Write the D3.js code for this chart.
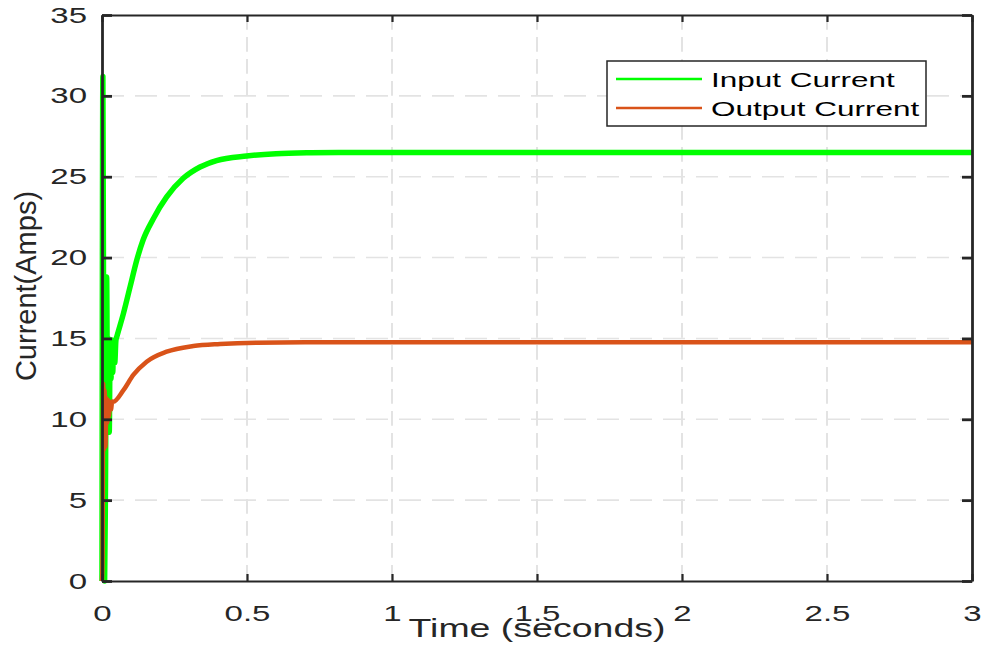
<!DOCTYPE html>
<html>
<head>
<meta charset="utf-8">
<script src="https://cdn.jsdelivr.net/npm/d3@7"></script>
<style>
    body { margin: 0; background: #fff; }
    text { font-family: "Liberation Sans", Arial, sans-serif; fill: #262626; }
</style>
</head>
<body>
<div id="chart"></div>
<script>
// data
var timeIn = [0, 0.003, 0.006, 0.009, 0.012, 0.016, 0.019, 0.022, 0.025, 0.028, 0.031, 0.034, 0.037, 0.040, 0.044, 0.048, 0.051,
    0.074, 0.097, 0.12, 0.142, 0.177, 0.223, 0.28, 0.338, 0.395, 0.499, 0.6, 0.72, 0.85, 1.0, 1.5, 2.0, 2.5, 3.0];
var inputCurrent = [0, 31.2, 12, 0, 6, 18.8, 11, 15, 9.2, 14.6, 12.5, 14.9, 12.9, 14.8, 13.5, 14.9, 15.1,
    16.55, 18.2, 19.85, 21.1, 22.4, 23.75, 24.9, 25.6, 26.0, 26.28, 26.42, 26.48, 26.5, 26.5, 26.5, 26.5, 26.5, 26.5];

var timeOut = [0, 0.002, 0.004, 0.006, 0.009, 0.012, 0.015, 0.018, 0.021, 0.024, 0.027, 0.031, 0.035, 0.039,
    0.074, 0.108, 0.154, 0.223, 0.315, 0.407, 0.533, 0.7, 1.0, 1.5, 2.0, 2.5, 3.0];
var outputCurrent = [0, 1.5, 12.2, 8.1, 11.8, 8.3, 11.3, 9.8, 11.2, 10.2, 11.0, 10.6, 11.1, 11.09,
    11.8, 12.74, 13.56, 14.18, 14.53, 14.66, 14.74, 14.76, 14.76, 14.76, 14.76, 14.76, 14.76];

var xTicks = [0, 0.5, 1, 1.5, 2, 2.5, 3];
var yTicks = [0, 5, 10, 15, 20, 25, 30, 35];
var seriesNames = ["Input Current", "Output Current"];
var seriesColors = ["#00ff00", "#d95319"];

var svgWidth = 985;
var svgHeight = 647;
var margin = { top: 15, right: 13, bottom: 66, left: 102 };
var chart_width = svgWidth - margin.left - margin.right;
var chart_height = svgHeight - margin.top - margin.bottom;

// the original picture is stretched sideways, so horizontal text is too
var stretch = 1.5;

var svg = d3.select("#chart")
    .append("svg")
    .attr("width", svgWidth)
    .attr("height", svgHeight);

var chartGroup = svg.append("g")
    .attr("transform", `translate(${margin.left}, ${margin.top})`);

var xScale = d3.scaleLinear().domain([0, 3]).range([0, chart_width]);
var yScale = d3.scaleLinear().domain([0, 35]).range([chart_height, 0]);

// grid
chartGroup.append("g")
    .selectAll("line")
    .data(xTicks.slice(1, -1))
    .enter()
    .append("line")
    .attr("x1", d => xScale(d)).attr("x2", d => xScale(d))
    .attr("y1", 0).attr("y2", chart_height)
    .attr("stroke", "#e3e3e3")
    .attr("stroke-width", 2)
    .attr("stroke-dasharray", "14.7 7.3");

chartGroup.append("g")
    .selectAll("line")
    .data(yTicks.slice(1, -1))
    .enter()
    .append("line")
    .attr("x1", 0).attr("x2", chart_width)
    .attr("y1", d => yScale(d)).attr("y2", d => yScale(d))
    .attr("stroke", "#e3e3e3")
    .attr("stroke-width", 1.6)
    .attr("stroke-dasharray", "22 11");

// lines
var lineIn = d3.line().x((d, i) => xScale(timeIn[i])).y(d => yScale(d)).curve(d3.curveMonotoneX);
var lineOut = d3.line().x((d, i) => xScale(timeOut[i])).y(d => yScale(d)).curve(d3.curveMonotoneX);

chartGroup.append("path")
    .datum(inputCurrent)
    .attr("d", lineIn)
    .attr("fill", "none")
    .attr("stroke", seriesColors[0])
    .attr("stroke-width", 5.5)
    .attr("stroke-linejoin", "round");

chartGroup.append("path")
    .datum(outputCurrent)
    .attr("d", lineOut)
    .attr("fill", "none")
    .attr("stroke", seriesColors[1])
    .attr("stroke-width", 4.5)
    .attr("stroke-linejoin", "round");

// axes (ticks point inward on all four sides)
function styleAxis(g, width) {
    g.select(".domain").attr("stroke", "#262626").attr("stroke-width", width);
    g.selectAll(".tick line").attr("stroke", "#262626").attr("stroke-width", width);
}

var bottomAxis = d3.axisBottom(xScale).tickValues(xTicks).tickSizeInner(-7).tickSizeOuter(0).tickPadding(0)
    .tickFormat(d3.format("~g"));
var gx = chartGroup.append("g")
    .attr("transform", `translate(0, ${chart_height})`)
    .call(bottomAxis);
styleAxis(gx, 2.2);
gx.selectAll(".tick text")
    .attr("y", 24)
    .attr("dy", "0.71em")
    .attr("transform", `scale(${stretch},1)`)
    .style("font-size", "22px")
    .style("fill", "#262626");

var topAxis = d3.axisTop(xScale).tickValues(xTicks).tickSizeInner(-7).tickSizeOuter(0).tickFormat("");
styleAxis(chartGroup.append("g").call(topAxis), 2.2);

var leftAxis = d3.axisLeft(yScale).tickValues(yTicks).tickSizeInner(-10).tickSizeOuter(0).tickPadding(0);
var gy = chartGroup.append("g").call(leftAxis);
styleAxis(gy, 2.8);
gy.selectAll(".tick text")
    .attr("x", -15 / stretch)
    .attr("transform", `scale(${stretch},1)`)
    .style("font-size", "22px")
    .style("fill", "#262626");

var rightAxis = d3.axisRight(yScale).tickValues(yTicks).tickSizeInner(-10).tickSizeOuter(0).tickFormat("");
styleAxis(chartGroup.append("g").attr("transform", `translate(${chart_width}, 0)`).call(rightAxis), 2.8);

gx.selectAll("text").attr("font-family", null);
gy.selectAll("text").attr("font-family", null);

// axis labels
chartGroup.append("text")
    .attr("transform", `translate(${chart_width / 2}, ${chart_height + 56}) scale(${stretch},1)`)
    .attr("text-anchor", "middle")
    .style("font-size", "25px")
    .text("Time (seconds)");

chartGroup.append("text")
    .attr("transform", `translate(${36 - margin.left}, ${286 - margin.top}) rotate(-90)`)
    .attr("text-anchor", "middle")
    .style("font-size", "29px")
    .text("Current(Amps)");

// legend
var legend = svg.append("g").attr("transform", "translate(607, 61)");
legend.append("rect")
    .attr("width", 319)
    .attr("height", 65)
    .attr("fill", "#fff")
    .attr("stroke", "#262626")
    .attr("stroke-width", 1.5);

seriesNames.forEach(function(name, i) {
    var y = 18 + i * 29;
    legend.append("line")
        .attr("x1", 9).attr("x2", 95)
        .attr("y1", y).attr("y2", y)
        .attr("stroke", seriesColors[i])
        .attr("stroke-width", 2.5);
    legend.append("text")
        .attr("transform", `translate(104, ${y + 8}) scale(${stretch},1)`)
        .style("font-size", "21px")
        .style("fill", "#000")
        .text(name);
});
</script>
</body>
</html>
